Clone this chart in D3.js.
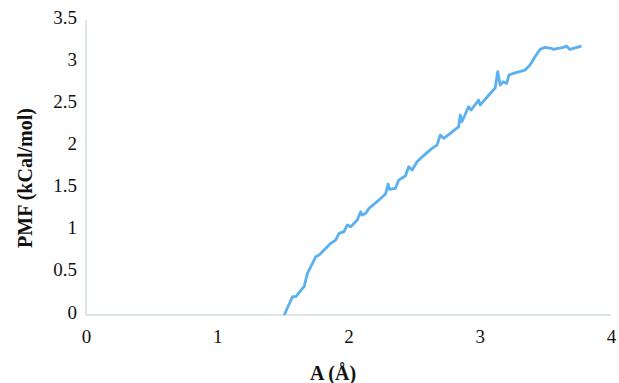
<!DOCTYPE html>
<html>
<head>
<meta charset="utf-8">
<script src="https://cdn.jsdelivr.net/npm/d3@7"></script>
<style>
  body { margin: 0; background: #fff; }
  text { font-family: 'Liberation Serif', 'DejaVu Serif', serif; fill: #111; }
</style>
</head>
<body>
<script>
// PMF curve
const distA = [1.51, 1.573, 1.599, 1.649, 1.662, 1.687, 1.713, 1.751, 1.776, 1.865, 1.903, 1.928,
  1.966, 1.991, 2.017, 2.067, 2.093, 2.105, 2.131, 2.156, 2.232, 2.282, 2.302, 2.313, 2.358,
  2.383, 2.434, 2.459, 2.485, 2.522, 2.548, 2.636, 2.674, 2.7, 2.725, 2.776, 2.839, 2.852,
  2.864, 2.915, 2.935, 2.991, 3.003, 3.091, 3.117, 3.137, 3.155, 3.18, 3.205, 3.223, 3.256,
  3.345, 3.383, 3.421, 3.459, 3.497, 3.547, 3.56, 3.636, 3.661, 3.686, 3.775];
const pmf = [0, 0.217, 0.217, 0.316, 0.336, 0.494, 0.573, 0.692, 0.712, 0.85, 0.89, 0.969,
  0.989, 1.068, 1.048, 1.127, 1.225, 1.186, 1.206, 1.265, 1.364, 1.435, 1.554, 1.491, 1.503,
  1.601, 1.652, 1.759, 1.72, 1.818, 1.858, 1.977, 2.016, 2.135, 2.096, 2.155, 2.234, 2.372,
  2.293, 2.471, 2.432, 2.55, 2.491, 2.649, 2.689, 2.886, 2.728, 2.768, 2.748, 2.847, 2.867,
  2.906, 2.966, 3.064, 3.151, 3.175, 3.163, 3.151, 3.175, 3.191, 3.151, 3.191];
const xTicks = [0, 1, 2, 3, 4];
const yTicks = [0, 0.5, 1, 1.5, 2, 2.5, 3, 3.5];

const width = 619;
const height = 383;
const margin = { top: 20, right: 7, bottom: 68, left: 86 };

const data = distA.map((d, i) => ({ x: d, y: pmf[i] }));

const xScale = d3.scaleLinear().domain([0, 4]).range([margin.left, width - margin.right - 1]);
const yScale = d3.scaleLinear().domain([0, 3.5]).range([height - margin.bottom, margin.top]);

const svg = d3.select('body')
  .append('svg')
  .attr('width', width)
  .attr('height', height);

// axis lines
svg.append('line')
  .attr('x1', xScale(0)).attr('x2', xScale(0))
  .attr('y1', yScale(3.5)).attr('y2', yScale(0))
  .attr('stroke', '#d3dcdc').attr('stroke-width', 1.5);
svg.append('line')
  .attr('x1', xScale(0)).attr('x2', xScale(4))
  .attr('y1', yScale(0)).attr('y2', yScale(0))
  .attr('stroke', '#d3dcdc').attr('stroke-width', 1.5);

const yAxis = d3.axisLeft(yScale).tickValues(yTicks).tickSize(0).tickPadding(9)
  .tickFormat(d3.format('~g'));
svg.append('g')
  .attr('transform', `translate(${margin.left}, -3)`)
  .call(yAxis)
  .call((g) => g.select('.domain').remove())
  .selectAll('text')
  .style('font-size', '19px');

const xAxis = d3.axisBottom(xScale).tickValues(xTicks).tickSize(0).tickPadding(15)
  .tickFormat(d3.format('d'));
svg.append('g')
  .attr('transform', `translate(0, ${yScale(0)})`)
  .call(xAxis)
  .call((g) => g.select('.domain').remove())
  .selectAll('text')
  .style('font-size', '19px');

svg.append('text')
  .attr('transform', `translate(32, ${178}) rotate(-90)`)
  .style('text-anchor', 'middle')
  .style('font-size', '20px')
  .style('font-weight', 'bold')
  .text('PMF (kCal/mol)');

svg.append('text')
  .attr('x', 333)
  .attr('y', 380)
  .style('text-anchor', 'middle')
  .style('font-size', '20px')
  .style('font-weight', 'bold')
  .text('A (Å)');

const line = d3.line()
  .x((d) => xScale(d.x))
  .y((d) => yScale(d.y));

svg.append('path')
  .datum(data)
  .attr('fill', 'none')
  .attr('stroke', '#5bb0f0')
  .attr('stroke-width', 2.8)
  .attr('stroke-linejoin', 'round')
  .attr('d', line);
</script>
</body>
</html>
